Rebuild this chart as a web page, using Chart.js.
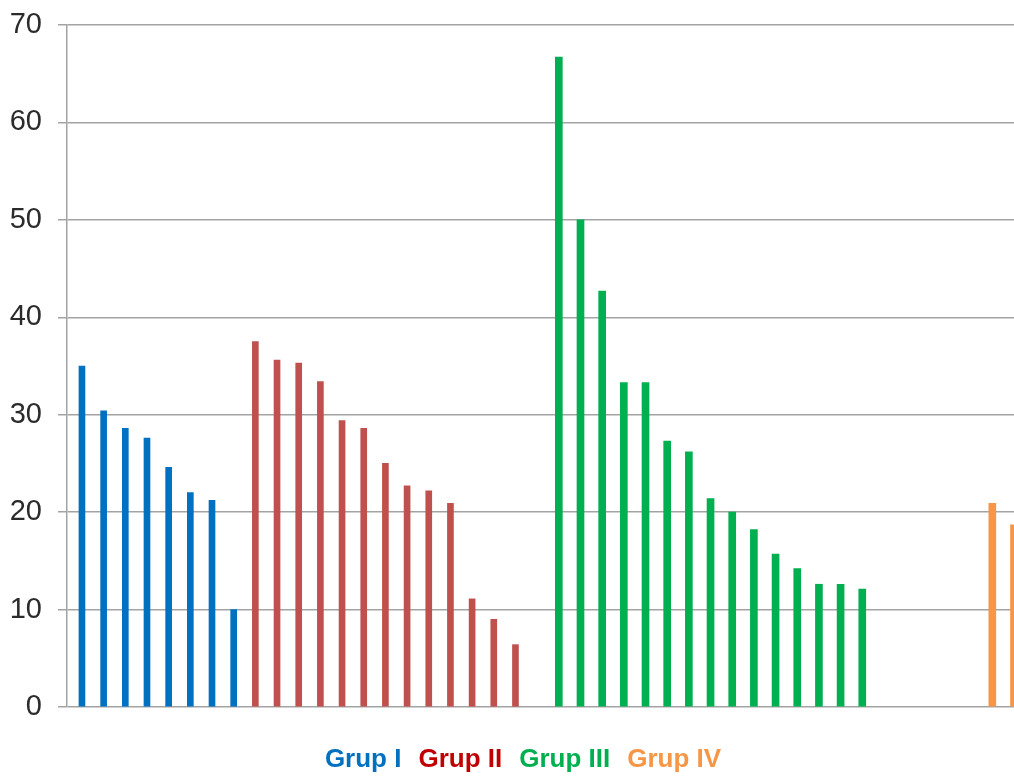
<!DOCTYPE html>
<html>
<head>
<meta charset="utf-8">
<script src="https://cdn.jsdelivr.net/npm/chart.js@4/dist/chart.umd.min.js"></script>
<style>
  html, body { margin: 0; padding: 0; background: #fff; overflow: hidden; }
  #wrap { width: 1014px; height: 776px; }
</style>
</head>
<body>
<div id="wrap"><canvas id="grafik" width="1014" height="776"></canvas></div>
<script>
// values per group
const groupNames = ['Grup I', 'Grup II', 'Grup III', 'Grup IV'];
const grupI = [35.0, 30.4, 28.6, 27.6, 24.6, 22.0, 21.2, 10.0];
const grupII = [37.5, 35.6, 35.3, 33.4, 29.4, 28.6, 25.0, 22.7, 22.2, 20.9, 11.1, 9.0, 6.4];
const grupIII = [66.7, 50.0, 42.7, 33.3, 33.3, 27.3, 26.2, 21.4, 20.0, 18.2, 15.7, 14.2, 12.6, 12.6, 12.1];
const grupIV = [20.9, 18.7];
// category slot where each group begins (empty slots between groups)
const groupStartSlot = [0, 8, 22, 42];
const yTicks = [0, 10, 20, 30, 40, 50, 60, 70];

const barColors = ['#0070C0', '#C0504D', '#00B050', '#F79646'];
const legendColors = ['#0070C0', '#C00000', '#00B050', '#F79646'];
const barWidths = [6, 6, 7, 7];
const gridGray = '#a3a3a3';

const groupValues = [grupI, grupII, grupIII, grupIV];

const ctx = document.getElementById('grafik').getContext('2d');
var graphData = {
    type: 'bar',
    data: {
        datasets: groupValues.map((vals, g) => ({
            label: groupNames[g],
            data: vals.map((v, i) => ({ x: groupStartSlot[g] + i, y: v })),
            backgroundColor: barColors[g],
            barThickness: barWidths[g],
            maxBarThickness: barWidths[g],
            grouped: false
        }))
    },
    options: {
        responsive: false,
        animation: false,
        layout: { padding: { top: 25, left: 0, right: -19, bottom: -7 } },
        scales: {
            x: {
                type: 'linear',
                display: false,
                offset: false,
                // the last slot sits on the right edge, as in the original crop
                min: -0.69,
                max: 43
            },
            y: {
                min: yTicks[0],
                max: yTicks[yTicks.length - 1],
                afterBuildTicks: (scale) => { scale.ticks = yTicks.map(v => ({ value: v })); },
                afterFit: (scale) => {
                    scale.width = 67;
                    scale.paddingTop = 0;
                    scale.paddingBottom = 0;
                },
                ticks: {
                    padding: 16,
                    color: '#2b2b2b',
                    font: { family: 'Liberation Sans', size: 29 }
                },
                grid: { color: gridGray, lineWidth: 1.5, tickLength: 9 },
                border: { display: true, color: gridGray, width: 1.5 }
            }
        },
        plugins: {
            tooltip: { enabled: false },
            legend: {
                position: 'bottom',
                title: { display: true, text: '', padding: 0, font: { size: 30 } },
                labels: {
                    boxWidth: 0,
                    boxHeight: 0,
                    padding: 4,
                    font: { family: 'Liberation Sans', size: 26, weight: 'bold' },
                    generateLabels: (chart) => chart.data.datasets.map((ds, i) => ({
                        text: ds.label,
                        fontColor: legendColors[i],
                        fillStyle: 'rgba(0,0,0,0)',
                        strokeStyle: 'rgba(0,0,0,0)',
                        lineWidth: 0,
                        hidden: false,
                        datasetIndex: i
                    }))
                }
            }
        }
    }
};

const grafik = new Chart(ctx, graphData);
</script>
</body>
</html>
